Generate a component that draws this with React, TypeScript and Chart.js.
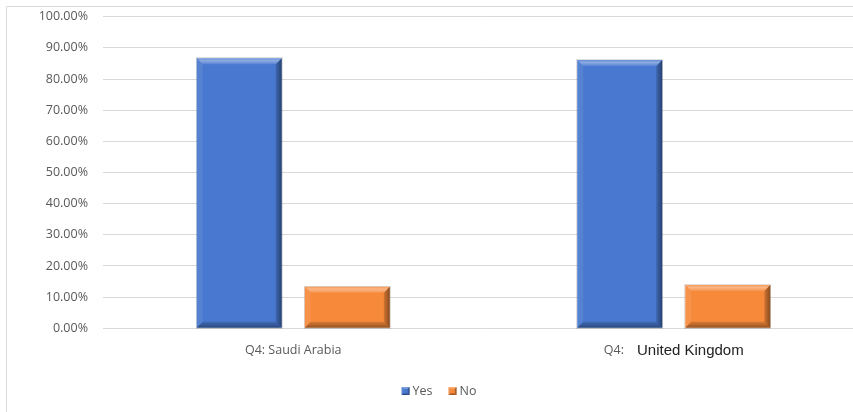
import { useEffect, useRef } from "react";
import { Chart, registerables } from "chart.js";

Chart.register(...registerables);

// Survey answers per country, in percent
const categories = ["Q4: Saudi Arabia", "Q4: United Kingdom"];
const labelPrefixes = ["Q4: Saudi Arabia", "Q4:"];
const labelNames = ["", "United Kingdom"];
const seriesNames = ["Yes", "No"];
const yesValues = [86.7, 86.1];
const noValues = [13.3, 13.9];
const yMin = 0;
const yMax = 100;
const yStep = 10;

const BLUE = "#4878cf";
const ORANGE = "#f6893a";
const GRID = "#d9d9d9";
const TEXT = "#595959";
const AXIS_FONT = "12.5px 'Open Sans'";
const NAME_FONT = "15px 'Liberation Sans'";

const W = 880;
const H = 420;

// Draws a bevelled rectangle: flat face plus lighter top/left and darker right/bottom edges
function bevelRect(ctx: CanvasRenderingContext2D, l: number, t: number, r: number, b: number, bev: number) {
  const e = Math.min(bev, (r - l) / 2, (b - t) / 2);
  const quad = (pts: number[][], fill: any) => {
    ctx.beginPath();
    ctx.moveTo(pts[0][0], pts[0][1]);
    for (let i = 1; i < pts.length; i++) ctx.lineTo(pts[i][0], pts[i][1]);
    ctx.closePath();
    ctx.fillStyle = fill;
    ctx.fill();
  };
  const top = ctx.createLinearGradient(0, t, 0, t + e);
  top.addColorStop(0, "rgba(255,255,255,0.15)");
  top.addColorStop(0.4, "rgba(255,255,255,0.38)");
  top.addColorStop(1, "rgba(255,255,255,0.1)");
  quad([[l, t], [r, t], [r - e, t + e], [l + e, t + e]], top);
  quad([[l, t], [l + e, t + e], [l + e, b - e], [l, b]], "rgba(255,255,255,0.08)");
  const right = ctx.createLinearGradient(r - e, 0, r, 0);
  right.addColorStop(0, "rgba(0,0,0,0.15)");
  right.addColorStop(1, "rgba(0,0,0,0.45)");
  quad([[r, t], [r, b], [r - e, b - e], [r - e, t + e]], right);
  const bottom = ctx.createLinearGradient(0, b - e, 0, b);
  bottom.addColorStop(0, "rgba(0,0,0,0.12)");
  bottom.addColorStop(1, "rgba(0,0,0,0.4)");
  quad([[l, b], [l + e, b - e], [r - e, b - e], [r, b]], bottom);
}

const framePlugin = {
  id: "frame",
  beforeDraw(chart: any) {
    const { ctx } = chart;
    ctx.save();
    ctx.fillStyle = "#ffffff";
    ctx.fillRect(0, 0, chart.width, chart.height);
    ctx.strokeStyle = GRID;
    ctx.lineWidth = 1;
    ctx.beginPath();
    ctx.moveTo(6.5, chart.height);
    ctx.lineTo(6.5, 6.5);
    ctx.lineTo(chart.width, 6.5);
    ctx.stroke();
    ctx.restore();
  },
};

const bevelPlugin = {
  id: "bevel",
  afterDatasetsDraw(chart: any) {
    const { ctx } = chart;
    ctx.save();
    chart.data.datasets.forEach((_: any, di: number) => {
      const meta = chart.getDatasetMeta(di);
      meta.data.forEach((bar: any) => {
        const { x, y, base, width } = bar.getProps(["x", "y", "base", "width"], true);
        const l = x - width / 2;
        const r = x + width / 2;
        const t = Math.min(y, base);
        const b = Math.max(y, base);
        ctx.strokeStyle = "rgba(0,0,0,0.12)";
        ctx.lineWidth = 1;
        ctx.strokeRect(Math.round(l) - 0.5, Math.round(t) - 0.5, Math.round(r - l) + 1, Math.round(b - t) + 1);
        bevelRect(ctx, l, t, r, b, 6);
      });
    });
    ctx.restore();
  },
};

const xLabelPlugin = {
  id: "xLabels",
  afterDraw(chart: any) {
    const { ctx, chartArea } = chart;
    const xs = chart.scales.x;
    const y = chartArea.bottom + 22;
    ctx.save();
    ctx.textBaseline = "middle";
    ctx.textAlign = "left";
    categories.forEach((_, i) => {
      const cx = xs.getPixelForValue(i);
      ctx.font = AXIS_FONT;
      const pw = ctx.measureText(labelPrefixes[i]).width;
      let nw = 0;
      const gap = labelNames[i] ? 13 : 0;
      if (labelNames[i]) {
        ctx.font = NAME_FONT;
        nw = ctx.measureText(labelNames[i]).width;
      }
      const sx = cx - (pw + gap + nw) / 2;
      ctx.font = AXIS_FONT;
      ctx.fillStyle = TEXT;
      ctx.fillText(labelPrefixes[i], sx, y);
      if (labelNames[i]) {
        ctx.font = NAME_FONT;
        ctx.fillStyle = "#222222";
        ctx.fillText(labelNames[i], sx + pw + gap, y + 0.5);
      }
    });
    ctx.restore();
  },
};

const legendPlugin = {
  id: "customLegend",
  afterDraw(chart: any) {
    const { ctx } = chart;
    const box = 8;
    const boxGap = 3;
    const itemGap = 16;
    const y = 391;
    ctx.save();
    ctx.font = AXIS_FONT;
    ctx.textBaseline = "middle";
    const widths = chart.data.datasets.map((d: any) => box + boxGap + ctx.measureText(d.label).width);
    const total = widths.reduce((a: number, b: number) => a + b, 0) + itemGap * (widths.length - 1);
    let x = chart.width / 2 - total / 2 - 1;
    chart.data.datasets.forEach((d: any, i: number) => {
      ctx.fillStyle = d.backgroundColor;
      ctx.fillRect(x, y - box / 2, box, box);
      bevelRect(ctx, x, y - box / 2, x + box, y + box / 2, 2);
      ctx.fillStyle = TEXT;
      ctx.textAlign = "left";
      ctx.fillText(d.label, x + box + boxGap, y);
      x += widths[i] + itemGap;
    });
    ctx.restore();
  },
};

export default function App() {
  const canvasRef = useRef<HTMLCanvasElement | null>(null);

  useEffect(() => {
    if (!canvasRef.current) return;
    const chart = new Chart(canvasRef.current, {
      type: "bar",
      data: {
        labels: categories,
        datasets: [
          { label: seriesNames[0], data: yesValues, backgroundColor: BLUE, borderWidth: 0 },
          { label: seriesNames[1], data: noValues, backgroundColor: ORANGE, borderWidth: 0 },
        ],
      },
      options: {
        responsive: false,
        animation: false,
        layout: { padding: { top: 16.7, left: 0, right: 16, bottom: 91.7 } },
        datasets: { bar: { categoryPercentage: 0.568, barPercentage: 0.787 } },
        plugins: {
          legend: { display: false },
          tooltip: { enabled: false },
        },
        scales: {
          x: {
            grid: { display: false },
            border: { display: false },
            ticks: { display: false },
            afterFit: (scale: any) => {
              scale.height = 0;
              scale.paddingLeft = 0;
              scale.paddingRight = 0;
            },
          },
          y: {
            min: yMin,
            max: yMax,
            grid: { color: GRID, drawTicks: false, lineWidth: 1 },
            border: { display: false },
            ticks: {
              stepSize: yStep,
              padding: 15,
              color: TEXT,
              font: { family: "'Open Sans'", size: 12.5 },
              callback: (v: any) => Number(v).toFixed(2) + "%",
            },
            afterFit: (scale: any) => {
              scale.width = 103;
              scale.paddingTop = 0;
              scale.paddingBottom = 0;
            },
          },
        },
      },
      plugins: [framePlugin, bevelPlugin, xLabelPlugin, legendPlugin],
    });
    return () => chart.destroy();
  }, []);

  return (
    <div style={{ position: "absolute", left: 0, top: 0, width: 853, height: 412, overflow: "hidden", background: "#fff" }}>
      <canvas ref={canvasRef} width={W} height={H} style={{ width: W, height: H, display: "block" }} />
    </div>
  );
}
